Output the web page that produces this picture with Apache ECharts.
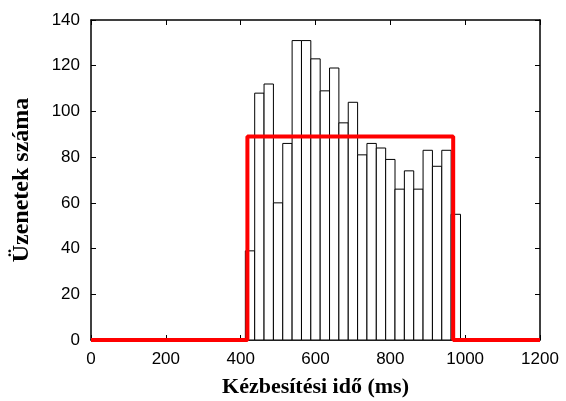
<!DOCTYPE html>
<html>
<head>
<meta charset="utf-8">
<script src="https://cdn.jsdelivr.net/npm/echarts@6/dist/echarts.min.js"></script>
<style>
  html, body { margin: 0; padding: 0; background: #fff; }
  #chart { width: 566px; height: 401px; }
</style>
</head>
<body>
<div id="chart"></div>
<script>
// hisztogram: 25 ms-os oszlopok közepei
var binCenters = [425, 450, 475, 500, 525, 550, 575, 600, 625, 650, 675, 700,
                  725, 750, 775, 800, 825, 850, 875, 900, 925, 950, 975];
var binCounts = [39, 108, 112, 60, 86, 131, 131, 123, 109, 119, 95, 104,
                 81, 86, 84, 79, 66, 74, 66, 83, 76, 83, 55];
var binWidth = 25;

// egyenletes eloszlás (piros lépcső)
var stepX = [0, 418, 418, 968, 968, 1200];
var stepY = [0, 0, 89, 89, 0, 0];

var xTicks = [0, 200, 400, 600, 800, 1000, 1200];
var yTicks = [0, 20, 40, 60, 80, 100, 120, 140];

var histData = binCenters.map(function (c, i) { return [c, binCounts[i]]; });
var stepData = stepX.map(function (x, i) { return [x, stepY[i]]; });

function tickFont() {
  return { color: '#000', fontSize: 17, fontFamily: 'Liberation Sans', margin: 11,
           formatter: function (v) { return String(v); } };
}
function titleFont(size) {
  return { color: '#000', fontSize: size, fontWeight: 'bold', fontFamily: 'Liberation Serif' };
}
function tick() { return { show: true, inside: true, length: 5, lineStyle: { color: '#000', width: 1 } }; }
function axLine() { return { show: true, onZero: false, lineStyle: { color: '#000', width: 1.5 } }; }

var myChart = echarts.init(document.getElementById('chart'), null, { renderer: 'canvas' });
myChart.setOption({
  animation: false,
  backgroundColor: '#fff',
  grid: { left: 91, right: 26, top: 20, bottom: 61, outerBoundsMode: 'none', containLabel: false },
  xAxis: [{
    type: 'value', gridIndex: 0, position: 'bottom',
    min: xTicks[0], max: xTicks[xTicks.length - 1], interval: 200,
    name: 'Kézbesítési idő (ms)', nameLocation: 'middle', nameGap: 36,
    nameTextStyle: titleFont(22),
    axisLine: axLine(), axisTick: tick(),
    axisLabel: tickFont(),
    splitLine: { show: false }
  }, {
    type: 'value', gridIndex: 0, position: 'top', show: true,
    min: 0, max: 1200, interval: 200,
    axisLine: axLine(), axisTick: tick(),
    axisLabel: { show: false }, splitLine: { show: false }
  }],
  yAxis: [{
    type: 'value', gridIndex: 0, position: 'left',
    min: yTicks[0], max: yTicks[yTicks.length - 1], interval: 20,
    name: 'Üzenetek száma', nameLocation: 'middle', nameGap: 57, nameRotate: 90,
    nameTextStyle: titleFont(24),
    axisLine: axLine(), axisTick: tick(),
    axisLabel: tickFont(),
    splitLine: { show: false }
  }, {
    type: 'value', gridIndex: 0, position: 'right', show: true,
    min: 0, max: 140, interval: 20,
    axisLine: axLine(), axisTick: tick(),
    axisLabel: { show: false }, splitLine: { show: false }
  }],
  series: [{
    type: 'custom',
    xAxisIndex: 0, yAxisIndex: 0,
    data: histData,
    z: 2,
    renderItem: function (params, api) {
      var c = api.value(0), v = api.value(1);
      var p0 = api.coord([c - binWidth / 2, v]);
      var p1 = api.coord([c + binWidth / 2, 0]);
      return {
        type: 'rect',
        shape: { x: p0[0], y: p0[1], width: p1[0] - p0[0], height: p1[1] - p0[1] },
        style: { fill: '#fff', stroke: '#000', lineWidth: 1 }
      };
    }
  }, {
    type: 'line',
    xAxisIndex: 0, yAxisIndex: 0,
    data: stepData,
    z: 5,
    symbol: 'none',
    lineStyle: { color: '#ff0000', width: 4 }
  }, {
    // láthatatlan sorozat a tükörtengelyekhez
    type: 'line', xAxisIndex: 1, yAxisIndex: 1,
    data: [[0, 0]], symbol: 'none', lineStyle: { opacity: 0 }, silent: true
  }]
});
</script>
</body>
</html>
